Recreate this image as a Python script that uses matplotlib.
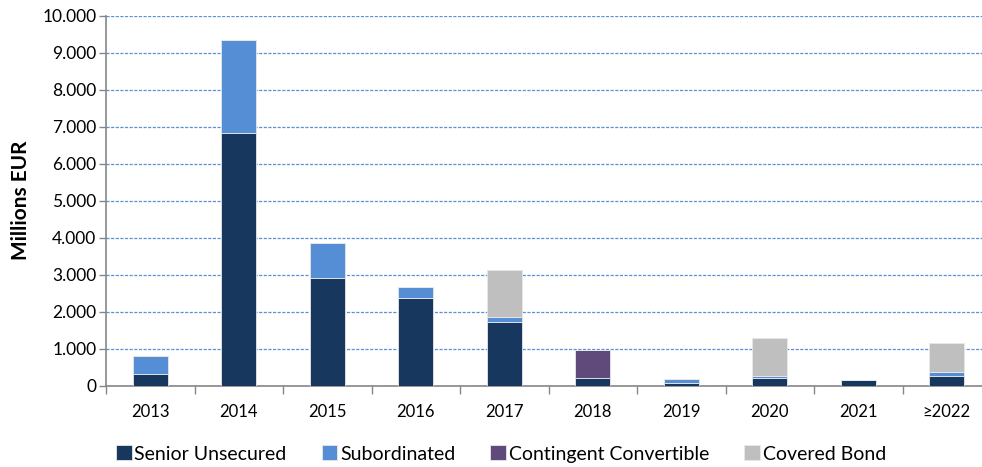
import numpy as np
from matplotlib import pyplot as plt
from matplotlib.ticker import FuncFormatter, FixedLocator

plt.rcParams['font.family'] = ['Lato', 'DejaVu Sans']

years      = ['2013', '2014', '2015', '2016', '2017', '2018', '2019', '2020', '2021', '≥2022']
senior     = [310, 6830, 2915, 2375, 1720, 216, 73, 216, 146, 270]
subord     = [480, 2510, 930, 280, 135, 0, 107, 54, 0, 108]
coco       = [0, 0, 0, 0, 0, 747, 0, 0, 0, 0]
covered    = [0, 0, 0, 0, 1270, 0, 0, 1010, 0, 767]

series = [
    ('Senior Unsecured', senior, '#17375E'),
    ('Subordinated', subord, '#558ED5'),
    ('Contingent Convertible', coco, '#604A7B'),
    ('Covered Bond', covered, '#BFBFBF'),
]

fig = plt.figure(figsize=(9.82, 4.67), dpi=100)
ax = fig.add_axes([106/982, 81.3/467, 885/982, 370.2/467])

x = np.arange(len(years))
bottom = np.zeros(len(years))
for name, vals, c in series:
    vals = np.asarray(vals, dtype=float)
    ax.bar(x, vals, 0.4, bottom=bottom, color=c, edgecolor='#E8E8E8', linewidth=0.6,
           label=name, zorder=3)
    bottom += vals

ax.set_xlim(-0.5, len(years) - 0.5)
ax.set_ylim(0, 10000)
ax.set_yticks(np.arange(0, 10001, 1000))
ax.yaxis.set_major_formatter(FuncFormatter(lambda v, p: f'{int(v):,}'.replace(',', '.')))
ax.yaxis.grid(True, color='#5B8FD6', linestyle=(0, (2.5, 1.2)), linewidth=0.9, zorder=0)

ax.xaxis.set_major_locator(FixedLocator(np.arange(-0.5, len(years), 1.0)))
ax.xaxis.set_major_formatter(FuncFormatter(lambda v, p: ''))
ax.xaxis.set_minor_locator(FixedLocator(x))
ax.set_xticklabels(years, minor=True)
ax.tick_params(axis='x', which='major', length=6, width=1, color='#868686', direction='out')
ax.tick_params(axis='x', which='minor', length=0, pad=13, labelsize=12)
ax.tick_params(axis='y', length=5, width=1, color='#868686', labelsize=12.5, pad=2)

for s in ['top', 'right']:
    ax.spines[s].set_visible(False)
for s in ['left', 'bottom']:
    ax.spines[s].set_color('#868686')
    ax.spines[s].set_linewidth(1.2)

ax.set_ylabel('Millions EUR', fontsize=15, fontweight='bold', labelpad=8)

fig.legend(loc='center', bbox_to_anchor=(501/982, 1 - 454/467), ncol=4, frameon=False,
           fontsize=14, handlelength=0.8, handleheight=0.8, handletextpad=0.15,
           columnspacing=1.8)

fig.savefig('out.png', dpi=100)
